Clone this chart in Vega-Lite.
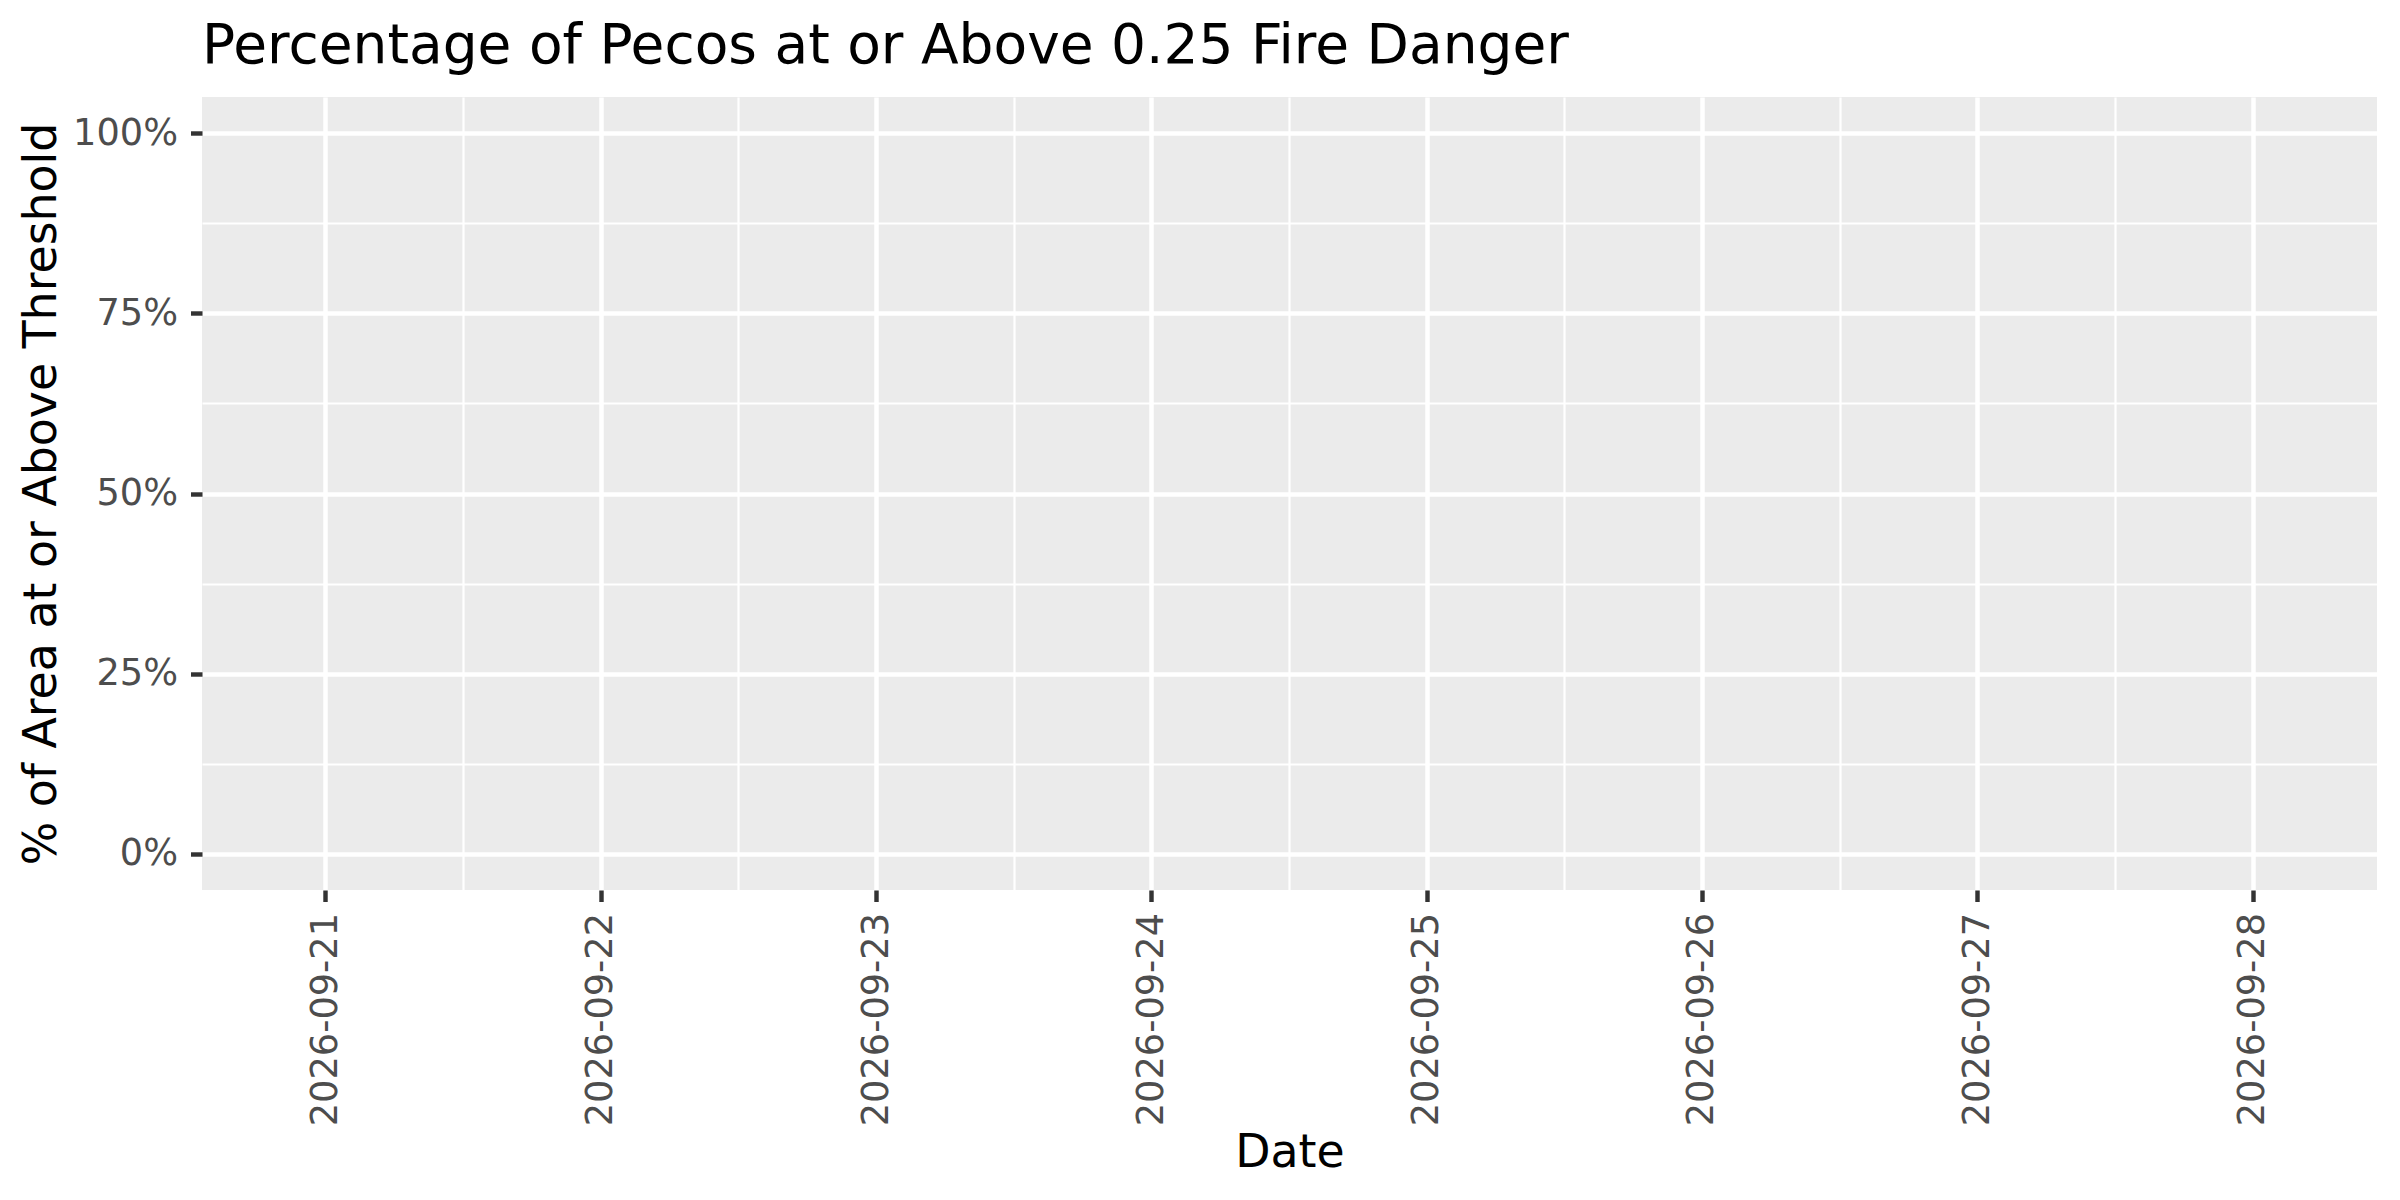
{
  "$schema": "https://vega.github.io/schema/vega-lite/v6.json",
  "width": 2175,
  "height": 793,
  "autosize": {"type": "none"},
  "padding": {"left": 202, "top": 97, "right": 23, "bottom": 310},
  "background": "#FFFFFF",
  "title": {
    "text": "Percentage of Pecos at or Above 0.25 Fire Danger",
    "anchor": "start",
    "frame": "group",
    "font": "DejaVu Sans",
    "fontSize": 55,
    "fontWeight": "normal",
    "color": "#000000",
    "baseline": "alphabetic",
    "offset": 34,
    "dy": 55
  },
  "data": {
    "values": [
      {"Date": "2026-09-21", "Percent": 0},
      {"Date": "2026-09-22", "Percent": 0},
      {"Date": "2026-09-23", "Percent": 0},
      {"Date": "2026-09-24", "Percent": 0},
      {"Date": "2026-09-25", "Percent": 0},
      {"Date": "2026-09-26", "Percent": 0},
      {"Date": "2026-09-27", "Percent": 0},
      {"Date": "2026-09-28", "Percent": 0}
    ]
  },
  "layer": [
    {
      "mark": {"type": "bar", "color": "#595959"},
      "encoding": {
        "x": {
          "field": "Date",
          "type": "nominal",
          "sort": null,
          "scale": {"type": "band", "paddingInner": 0.1, "paddingOuter": 0},
          "axis": {
            "orient": "bottom",
            "bandPosition": 0.5,
            "grid": true,
            "gridColor": "#FFFFFF",
            "gridWidth": 4.44,
            "domain": false,
            "ticks": true,
            "tickSize": 11.5,
            "tickWidth": 4.44,
            "tickColor": "#333333",
            "labelAngle": 270,
            "labelAlign": "right",
            "labelBaseline": "middle",
            "labelPadding": 11,
            "labelOverlap": false,
            "labelLimit": 0,
            "labelFont": "DejaVu Sans",
            "labelFontSize": 36.7,
            "labelColor": "#4D4D4D",
            "title": "Date",
            "titleFont": "DejaVu Sans",
            "titleFontSize": 45.8,
            "titleFontWeight": "normal",
            "titleColor": "#000000",
            "titleX": 1087.5,
            "titleY": 276,
            "titleAlign": "center",
            "titleBaseline": "alphabetic"
          }
        },
        "y": {
          "field": "Percent",
          "type": "quantitative",
          "scale": {"domain": [-0.05, 1.05], "nice": false, "zero": false},
          "axis": {
            "orient": "left",
            "values": [0, 0.25, 0.5, 0.75, 1],
            "format": ".0%",
            "grid": true,
            "gridColor": "#FFFFFF",
            "gridWidth": 4.44,
            "domain": false,
            "tickSize": 11.5,
            "tickWidth": 4.44,
            "tickColor": "#333333",
            "labelPadding": 13,
            "labelFont": "DejaVu Sans",
            "labelFontSize": 36.7,
            "labelColor": "#4D4D4D",
            "title": "% of Area at or Above Threshold",
            "titleFont": "DejaVu Sans",
            "titleFontSize": 45.8,
            "titleFontWeight": "normal",
            "titleColor": "#000000",
            "titleAngle": 270,
            "titleX": -147,
            "titleY": 396.5,
            "titleAlign": "center",
            "titleBaseline": "alphabetic"
          }
        }
      }
    },
    {
      "mark": {"type": "bar", "opacity": 0},
      "encoding": {
        "x": {
          "field": "Date",
          "type": "nominal",
          "sort": null,
          "axis": {
            "orient": "bottom",
            "values": ["2026-09-21", "2026-09-22", "2026-09-23", "2026-09-24", "2026-09-25", "2026-09-26", "2026-09-27"],
            "bandPosition": 1.0556,
            "grid": true,
            "gridColor": "#FFFFFF",
            "gridWidth": 2.22,
            "domain": false,
            "ticks": false,
            "labels": false,
            "title": null
          }
        },
        "y": {
          "field": "Percent",
          "type": "quantitative",
          "axis": {
            "orient": "left",
            "values": [0.125, 0.375, 0.625, 0.875],
            "grid": true,
            "gridColor": "#FFFFFF",
            "gridWidth": 2.22,
            "domain": false,
            "ticks": false,
            "labels": false,
            "title": null
          }
        }
      }
    }
  ],
  "resolve": {"axis": {"x": "independent", "y": "independent"}},
  "config": {
    "font": "DejaVu Sans",
    "view": {"fill": "#EBEBEB", "stroke": null}
  }
}
